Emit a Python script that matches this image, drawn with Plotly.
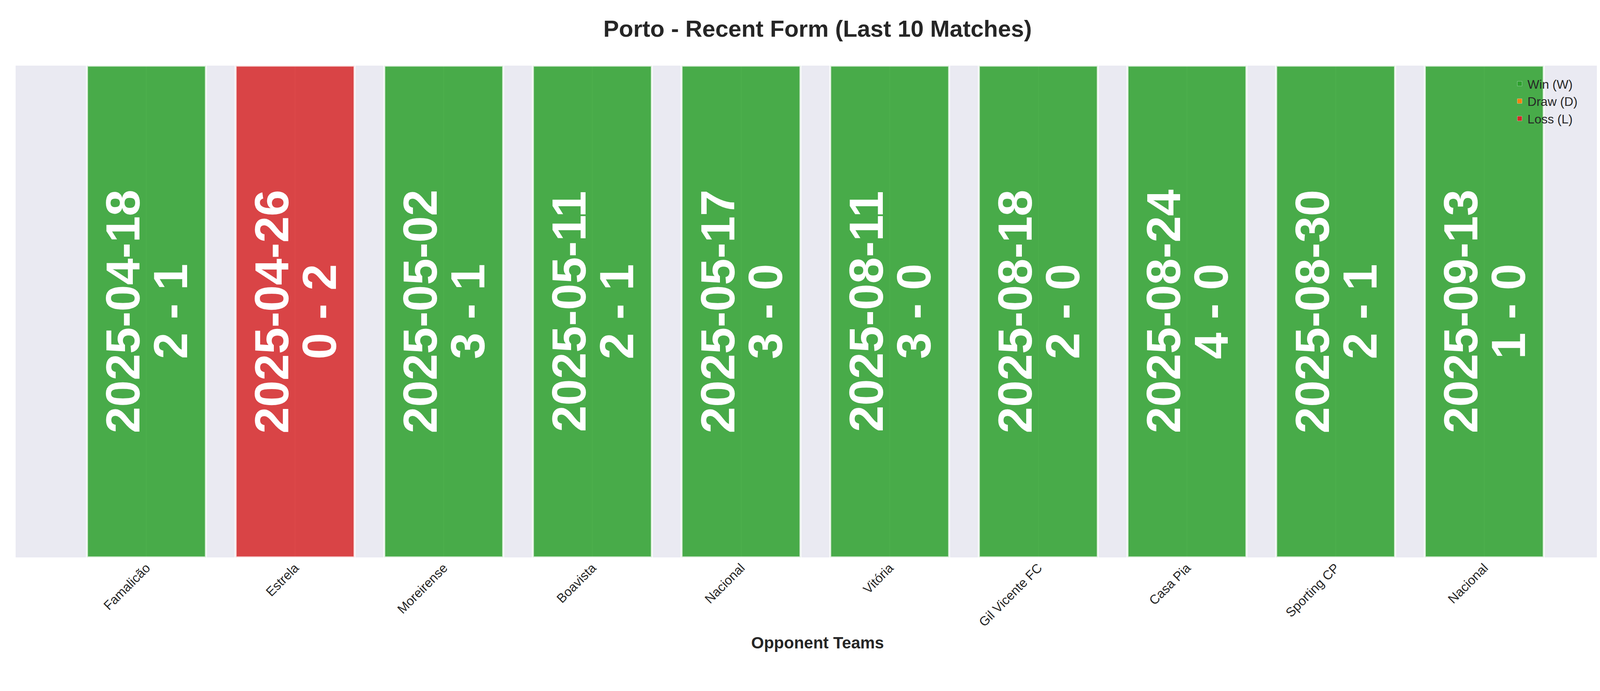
import plotly.graph_objects as go

opponents = ["Famalicão", "Estrela", "Moreirense", "Boavista", "Nacional",
             "Vitória", "Gil Vicente FC", "Casa Pia", "Sporting CP", "Nacional"]
dates = ["2025-04-18", "2025-04-26", "2025-05-02", "2025-05-11", "2025-05-17",
         "2025-08-11", "2025-08-18", "2025-08-24", "2025-08-30", "2025-09-13"]
scores = ["2 - 1", "0 - 2", "3 - 1", "2 - 1", "3 - 0",
          "3 - 0", "2 - 0", "4 - 0", "2 - 1", "1 - 0"]
results = ["W", "L", "W", "W", "W", "W", "W", "W", "W", "W"]
heights = [1] * 10

colors = {"W": "#2ca02c", "D": "#ff7f0e", "L": "#d62728"}
fill = {"W": "rgba(44,160,44,0.85)", "D": "rgba(255,127,14,0.85)", "L": "rgba(214,39,40,0.85)"}
idx = list(range(len(opponents)))

fig = go.Figure()
fig.add_trace(go.Bar(x=idx, y=heights, width=0.8,
                     marker=dict(color=[fill[r] for r in results],
                                 line=dict(color="rgba(255,255,255,0.8)", width=5)),
                     showlegend=False, hoverinfo="skip"))
for lab, key in [("Win (W)", "W"), ("Draw (D)", "D"), ("Loss (L)", "L")]:
    fig.add_trace(go.Bar(x=[None], y=[None], name=lab, marker=dict(color=colors[key])))

fnt = dict(family="Liberation Sans, Arial", size=122, color="white")
for i in idx:
    fig.add_annotation(x=i, y=0.5, text=f"<b>{dates[i]}</b>", textangle=-90, xshift=-60,
                       showarrow=False, font=fnt)
    fig.add_annotation(x=i, y=0.5, text=f"<b>{scores[i]}</b>", textangle=-90, xshift=62,
                       showarrow=False, font=fnt)

fig.update_layout(
    width=4170, height=1769,
    paper_bgcolor="white", plot_bgcolor="#eaeaf2",
    margin=dict(l=32, r=32, t=160, b=350),
    title=dict(text="<b>Porto - Recent Form (Last 10 Matches)</b>", x=0.5, xanchor="center",
               y=0.975, yanchor="top", font=dict(family="Liberation Sans, Arial", size=60, color="#262626")),
    font=dict(family="Liberation Sans, Arial", color="#262626"),
    barmode="overlay",
    legend=dict(x=0.975, y=0.985, xanchor="right", yanchor="top", bgcolor="rgba(0,0,0,0)",
                font=dict(size=32)),
    xaxis=dict(tickmode="array", tickvals=idx, ticktext=opponents, tickangle=-45,
               tickfont=dict(size=33), range=[-0.88, 9.91], showgrid=True, gridcolor="white",
               gridwidth=3, zeroline=False, layer="below traces",
               title=dict(text="<b>Opponent Teams</b>", font=dict(size=42), standoff=20)),
    yaxis=dict(range=[0, 1], showticklabels=False, showgrid=False, zeroline=False),
)
fig.write_html("out.html")
